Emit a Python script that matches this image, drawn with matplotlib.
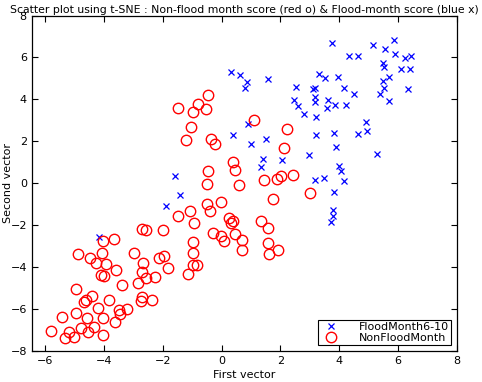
import matplotlib
matplotlib.use('Agg')
import matplotlib.pyplot as plt

# t-SNE vectors, flood months (blue x)
flood_x = [3.77, 5.16, 5.87, 5.56, 5.90, 4.34, 4.65, 6.24, 6.44, 5.50, 5.53, 6.10, 6.41,
           3.32, 3.53, 3.96, 1.57, 5.71, 5.50, 2.52, 3.12, 3.18, 4.16, 5.53, 6.35, 4.52,
           5.39, 3.18, 2.45, 3.17, 3.62, 5.71, 2.59, 3.58, 3.85, 4.23, 2.79, 3.20, 4.92,
           4.96, 3.21, 3.83, 4.65, 1.00, 1.50, 3.90, 5.30, 2.97, 1.40, 2.07, 1.33, 3.98,
           4.07, 3.17, 3.48, 4.16, 3.83, 3.80, 3.78, 3.71, 0.31, 0.63, 0.86, 0.79, 0.91,
           0.38, -1.58, -1.42, -1.89, -4.18]
flood_y = [6.69, 6.60, 6.82, 6.41, 6.15, 6.06, 6.06, 5.98, 6.09, 5.74, 5.55, 5.47, 5.44,
           5.23, 5.02, 5.05, 4.99, 5.07, 4.86, 4.57, 4.51, 4.54, 4.54, 4.54, 4.48, 4.24,
           4.24, 4.11, 3.95, 3.89, 3.95, 3.94, 3.70, 3.58, 3.71, 3.75, 3.30, 3.14, 2.90,
           2.47, 2.31, 2.39, 2.34, 1.89, 2.09, 1.72, 1.40, 1.34, 1.16, 1.11, 0.76, 0.83,
           0.56, 0.16, 0.25, 0.09, -0.44, -1.28, -1.55, -1.85, 5.29, 5.15, 4.81, 4.54, 2.84,
           2.28, 0.32, -0.58, -1.07, -2.59]

# non-flood months (red o)
nonflood_x = [-0.45, -0.79, -1.48, -0.98, -0.54, 1.10, -1.05, -1.20, -0.37, -0.22, 0.38,
              0.47, -0.47, -0.49, 0.59, 2.24, 2.11, 1.45, 1.90, 2.02, 2.43, 3.02, 1.75,
              1.35, 1.58, 1.58, 1.60, 1.92, -0.51, -0.02, -0.39, -1.09, -1.49, -0.93, 0.25,
              0.40, 0.33, -2.70, -2.58, -1.99, -0.29, -0.02, 0.46, 0.09, 0.68, 0.69, -0.96,
              -3.66, -4.05, -4.06, -2.97, -1.97, -2.13, -0.96, -2.67, -3.94, -1.83, -0.98,
              -0.85, -1.15, -3.59, -2.72, -4.10, -4.00, -2.58, -2.27, -3.38, -2.84, -3.82,
              -2.71, -2.75, -2.36, -3.23, -3.48, -3.46, -4.03, -3.62, -4.03, -4.19, -4.89,
              -4.48, -4.26, -4.94, -4.41, -4.68, -4.61, -4.95, -5.43, -4.57, -4.77, -4.34,
              -5.79, -5.20, -4.55, -5.32, -5.02]
nonflood_y = [4.19, 3.78, 3.58, 3.38, 3.54, 3.01, 2.67, 2.04, 2.10, 1.86, 0.99, 0.62, 0.59,
              -0.03, -0.08, 2.58, 1.69, 0.17, 0.19, 0.33, 0.38, -0.46, -0.75, -1.82, -2.16,
              -2.86, -3.37, -3.19, -0.99, -0.91, -1.31, -1.34, -1.55, -1.92, -1.66, -1.82,
              -1.92, -2.19, -2.23, -2.23, -2.40, -2.52, -2.43, -2.75, -2.71, -3.18, -2.79,
              -2.67, -2.75, -3.35, -3.32, -3.46, -3.56, -3.35, -3.80, -3.85, -4.05, -3.89,
              -3.89, -4.33, -4.15, -4.24, -4.38, -4.45, -4.53, -4.48, -4.85, -4.79, -5.57,
              -5.43, -5.62, -5.60, -5.99, -6.05, -6.25, -6.45, -6.61, -7.24, -5.95, -3.38,
              -3.59, -3.80, -5.06, -5.41, -5.67, -5.58, -6.18, -6.40, -6.43, -6.92, -6.88,
              -7.04, -7.09, -7.09, -7.37, -7.33]

plt.rcParams['font.family'] = 'DejaVu Sans'
fig = plt.figure(figsize=(4.82, 3.82), dpi=100)
ax = fig.add_axes([0.0658, 0.0819, 0.8817, 0.8775])

ax.plot(flood_x, flood_y, 'bx', markersize=5, markeredgewidth=0.9, linestyle='none',
        label='FloodMonth6-10')
ax.plot(nonflood_x, nonflood_y, 'ro', markersize=7.5, markerfacecolor='none',
        markeredgewidth=1.0, linestyle='none', label='NonFloodMonth')

ax.set_xlim(-6.46, 8)
ax.set_ylim(-8, 8)
ax.set_xticks(range(-6, 9, 2))
ax.set_yticks(range(-8, 9, 2))
ax.tick_params(direction='in', top=True, right=True, length=4, width=0.8, labelsize=8,
               colors='black')
for s in ax.spines.values():
    s.set_linewidth(0.9)

ax.set_xlabel('First vector', fontsize=8, labelpad=3)
ax.set_ylabel('Second vector', fontsize=8)
ax.yaxis.set_label_coords(-0.044, 0.5)
ax.set_title('Scatter plot using t-SNE : Non-flood month score (red o) & Flood-month score (blue x)',
             fontsize=7.8, pad=2)

leg = ax.legend(loc='lower right', fontsize=8, fancybox=False, edgecolor='black',
                framealpha=1, borderpad=0.2, labelspacing=0.1, handletextpad=1.5,
                borderaxespad=0.5)
leg.get_frame().set_linewidth(0.8)

fig.savefig('out.png', dpi=100)
